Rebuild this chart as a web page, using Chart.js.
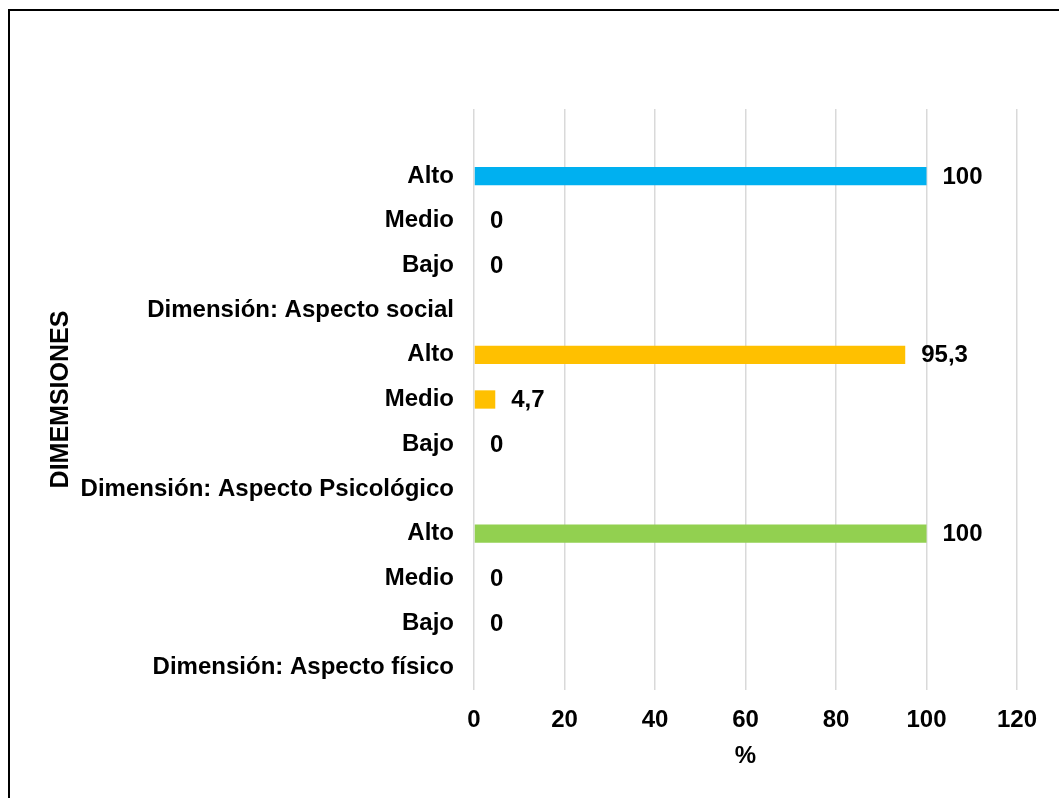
<!DOCTYPE html>
<html>
<head>
<meta charset="utf-8">
<script src="https://cdn.jsdelivr.net/npm/chart.js@4/dist/chart.umd.min.js"></script>
<style>
  html, body { margin: 0; padding: 0; background: #fff; }
  #wrap { width: 1059px; height: 798px; position: relative; }
</style>
</head>
<body>
<div id="wrap"><canvas id="c" width="1059" height="798"></canvas></div>
<script>
// Levels per dimension, listed top to bottom (leading blank row keeps headroom)
const categories = [
  '',
  'Alto', 'Medio', 'Bajo', 'Dimensión: Aspecto social',
  'Alto', 'Medio', 'Bajo', 'Dimensión: Aspecto Psicológico',
  'Alto', 'Medio', 'Bajo', 'Dimensión: Aspecto físico'
];
// Percentages per level: Alto, Medio, Bajo
const socialValues = [100, 0, 0];
const psicologicoValues = [95.3, 4.7, 0];
const fisicoValues = [100, 0, 0];
const xTicks = [0, 20, 40, 60, 80, 100, 120];

const socialColor = '#00B0F0';
const psicologicoColor = '#FFC000';
const fisicoColor = '#92D050';

// Header rows carry no bar (null)
const values = [null]
  .concat(socialValues, [null])
  .concat(psicologicoValues, [null])
  .concat(fisicoValues, [null]);
const colors = [null]
  .concat(socialValues.map(() => socialColor), [null])
  .concat(psicologicoValues.map(() => psicologicoColor), [null])
  .concat(fisicoValues.map(() => fisicoColor), [null]);

const FONT = "'Liberation Sans', Arial, sans-serif";
const FS = 24;

// Outer frame around the chart
const framePlugin = {
  id: 'frame',
  beforeDraw(chart) {
    const ctx = chart.ctx;
    ctx.save();
    ctx.fillStyle = '#fff';
    ctx.fillRect(0, 0, chart.width, chart.height);
    ctx.strokeStyle = '#000';
    ctx.lineWidth = 2;
    ctx.beginPath();
    ctx.moveTo(9, chart.height + 5);
    ctx.lineTo(9, 10);
    ctx.lineTo(chart.width + 5, 10);
    ctx.stroke();
    ctx.restore();
  }
};

// Value labels to the right of each bar
const valueLabels = {
  id: 'valueLabels',
  afterDatasetsDraw(chart) {
    const ctx = chart.ctx;
    ctx.save();
    ctx.font = 'bold ' + FS + 'px ' + FONT;
    ctx.fillStyle = '#000';
    ctx.textAlign = 'left';
    ctx.textBaseline = 'middle';
    chart.data.datasets.forEach((ds, di) => {
      chart.getDatasetMeta(di).data.forEach((bar, i) => {
        const v = ds.data[i];
        if (v === null || v === undefined) return;
        const txt = String(v).replace('.', ',');
        ctx.fillText(txt, bar.x + 16, bar.y + 1);
      });
    });
    ctx.restore();
  }
};

new Chart(document.getElementById('c'), {
  type: 'bar',
  data: {
    labels: categories,
    datasets: [{
      data: values,
      backgroundColor: colors,
      barPercentage: 0.41,
      categoryPercentage: 1.0
    }]
  },
  options: {
    indexAxis: 'y',
    responsive: false,
    animation: false,
    devicePixelRatio: 1,
    layout: { padding: { left: 44, top: 109, right: 42, bottom: 18 } },
    plugins: { legend: { display: false }, tooltip: { enabled: false } },
    scales: {
      x: {
        min: 0, max: 120,
        afterBuildTicks(scale) { scale.ticks = xTicks.map(v => ({ value: v })); },
        grid: { color: '#d9d9d9', lineWidth: 1.5, drawTicks: false },
        border: { display: false },
        ticks: { color: '#000', padding: 16, font: { family: FONT, size: FS, weight: 'bold' } },
        title: { display: true, text: '%', color: '#000', padding: { top: 4, bottom: 9 },
                 font: { family: FONT, size: FS, weight: 'bold' } },
        afterFit(scale) { scale.height = 90; }
      },
      y: {
        grid: { display: false, drawTicks: false },
        border: { display: false },
        ticks: { color: '#000', padding: 20, autoSkip: false,
                 font: { family: FONT, size: FS, weight: 'bold' } },
        title: { display: true, text: 'DIMEMSIONES', color: '#000', padding: { top: 2, bottom: 4 },
                 font: { family: FONT, size: 25, weight: 'bold' } },
        afterFit(scale) { scale.width = 430; }
      }
    }
  },
  plugins: [framePlugin, valueLabels]
});
</script>
</body>
</html>
